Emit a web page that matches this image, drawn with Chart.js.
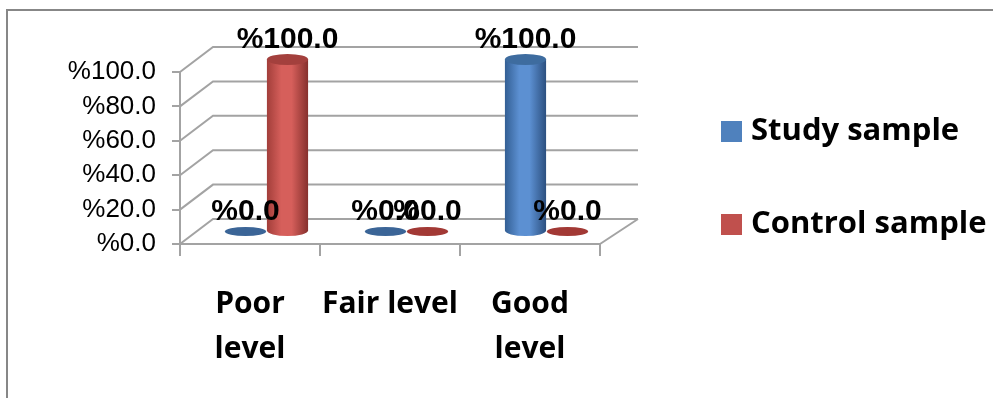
<!DOCTYPE html>
<html>
<head>
<meta charset="utf-8">
<script src="https://cdn.jsdelivr.net/npm/chart.js@4/dist/chart.umd.min.js"></script>
<style>
  html, body { margin: 0; padding: 0; background: #ffffff; }
  canvas { display: block; }
</style>
</head>
<body>
<canvas id="chart" width="993" height="398"></canvas>
<script>
  // Chart data
  const categories = [['Poor', 'level'], 'Fair level', ['Good', 'level']];
  const studySample = [0, 0, 100];
  const controlSample = [100, 0, 0];
  const seriesNames = ['Study sample', 'Control sample'];
  const yTicks = [0, 20, 40, 60, 80, 100];

  // 3D look: back wall offset and cylinder shading
  const depth = { dx: 33, dxRight: 38, dy: -25 };
  const shades = [
    { edge: '#335f94', light: '#5c90d2', dark: '#2c5080', cap: '#3e6c9f', flat: '#3b6597' },
    { edge: '#a23e3a', light: '#d65f5b', dark: '#86302d', cap: '#a3403d', flat: '#a23935' }
  ];
  const gridColor = '#a3a3a3';

  function pct(v) {
    return '%' + Number(v).toFixed(1);
  }

  // Frame + back wall / floor, drawn from the y scale
  const wallPlugin = {
    id: 'wall',
    beforeDraw(chart) {
      const ctx = chart.ctx;
      ctx.save();
      ctx.fillStyle = '#ffffff';
      ctx.fillRect(0, 0, chart.width, chart.height);
      ctx.strokeStyle = '#878787';
      ctx.lineWidth = 2;
      ctx.strokeRect(7, 10, chart.width + 20, chart.height + 20);
      ctx.restore();
    },
    beforeDatasetsDraw(chart) {
      const ctx = chart.ctx;
      const area = chart.chartArea;
      const y = chart.scales.y;
      ctx.save();
      ctx.strokeStyle = gridColor;
      ctx.lineWidth = 2;
      ctx.beginPath();
      yTicks.forEach(v => {
        const py = y.getPixelForValue(v);
        ctx.moveTo(area.left, py);
        ctx.lineTo(area.left + depth.dx, py + depth.dy);
        ctx.lineTo(area.right + depth.dxRight, py + depth.dy);
      });
      const p0 = y.getPixelForValue(0);
      ctx.moveTo(area.right, p0);
      ctx.lineTo(area.right + depth.dxRight, p0 + depth.dy);
      ctx.stroke();
      ctx.restore();
    }
  };

  // Cylinders from the bar elements, then the value labels on top
  const cylinderPlugin = {
    id: 'cylinders',
    beforeDatasetDraw() {
      return false;
    },
    afterDatasetsDraw(chart) {
      const ctx = chart.ctx;
      const ox = depth.dx / 2;
      const oy = depth.dy / 2;
      const ry = 5.5;
      const labels = [];
      ctx.save();
      chart.data.datasets.forEach((ds, di) => {
        const meta = chart.getDatasetMeta(di);
        const s = shades[di];
        meta.data.forEach((bar, i) => {
          const cx = bar.x + ox;
          const top = bar.y + oy;
          const base = bar.base + oy;
          const rx = bar.width / 2;
          if (base - top < 1) {
            ctx.fillStyle = s.flat;
            ctx.beginPath();
            ctx.ellipse(cx, base, rx, ry - 1, 0, 0, Math.PI * 2);
            ctx.fill();
          } else {
            const g = ctx.createLinearGradient(cx - rx, 0, cx + rx, 0);
            g.addColorStop(0, s.edge);
            g.addColorStop(0.35, s.light);
            g.addColorStop(0.6, s.light);
            g.addColorStop(1, s.dark);
            ctx.fillStyle = g;
            ctx.beginPath();
            ctx.moveTo(cx - rx, top);
            ctx.lineTo(cx - rx, base);
            ctx.ellipse(cx, base, rx, ry, 0, Math.PI, 0, true);
            ctx.lineTo(cx + rx, top);
            ctx.closePath();
            ctx.fill();
            ctx.fillStyle = s.cap;
            ctx.beginPath();
            ctx.ellipse(cx, top, rx, ry, 0, 0, Math.PI * 2);
            ctx.fill();
          }
          labels.push({ text: pct(ds.data[i]), x: cx, y: top - ry - 14 });
        });
      });
      ctx.fillStyle = '#000000';
      ctx.font = 'bold 30px "Liberation Sans", Arial, sans-serif';
      ctx.textAlign = 'center';
      ctx.textBaseline = 'middle';
      labels.forEach(l => ctx.fillText(l.text, l.x, l.y));
      ctx.restore();
    }
  };

  // Legend on the right, items taken from Chart.js' own generateLabels
  const sideLegendPlugin = {
    id: 'sideLegend',
    afterDraw(chart) {
      const ctx = chart.ctx;
      const items = Chart.defaults.plugins.legend.labels.generateLabels(chart);
      ctx.save();
      ctx.font = 'bold 31px "Open Sans", sans-serif';
      ctx.textAlign = 'left';
      ctx.textBaseline = 'middle';
      items.forEach((item, i) => {
        const cy = 131.5 + i * 93;
        ctx.fillStyle = item.fillStyle;
        ctx.fillRect(721, cy - 10.5, 21, 21);
        ctx.fillStyle = '#000000';
        ctx.fillText(item.text, 751, cy);
      });
      ctx.restore();
    }
  };

  new Chart(document.getElementById('chart'), {
    type: 'bar',
    data: {
      labels: categories,
      datasets: [
        {
          label: seriesNames[0],
          data: studySample,
          backgroundColor: '#4F81BD',
          borderWidth: 0
        },
        {
          label: seriesNames[1],
          data: controlSample,
          backgroundColor: '#C0504D',
          borderWidth: 0
        }
      ]
    },
    options: {
      responsive: false,
      animation: false,
      layout: { padding: { top: 72, bottom: 0, left: 0, right: 393 } },
      datasets: {
        bar: { categoryPercentage: 0.6, barPercentage: 0.98 }
      },
      scales: {
        x: {
          grid: { display: true, drawOnChartArea: false, offset: true, tickLength: 12, color: gridColor, lineWidth: 2 },
          border: { display: true, color: gridColor, width: 2 },
          ticks: {
            color: '#000000',
            padding: 26,
            maxRotation: 0,
            autoSkip: false,
            font: { family: '"Open Sans", sans-serif', weight: 'bold', size: 30, lineHeight: 1.5 }
          }
        },
        y: {
          min: 0,
          max: 100,
          grid: { display: true, drawOnChartArea: false, tickLength: 8, color: gridColor, lineWidth: 2 },
          border: { display: true, color: gridColor, width: 2 },
          ticks: {
            stepSize: 20,
            autoSkip: false,
            padding: 16,
            color: '#000000',
            font: { family: '"Liberation Sans", Arial, sans-serif', size: 26 },
            callback: v => pct(v)
          },
          afterFit(s) { s.width = 180; }
        }
      },
      plugins: {
        tooltip: { enabled: false },
        legend: { display: false }
      }
    },
    plugins: [wallPlugin, cylinderPlugin, sideLegendPlugin]
  });
</script>
</body>
</html>
